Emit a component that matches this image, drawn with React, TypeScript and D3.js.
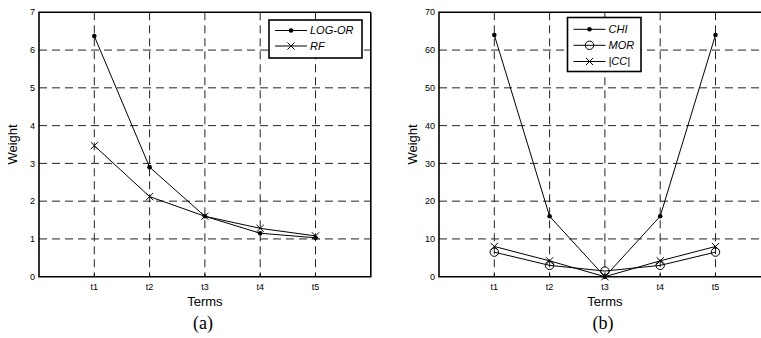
import React, { useEffect, useRef } from 'react'
import * as d3 from 'd3'

const terms = ['t1', 't2', 't3', 't4', 't5']

// panel (a)
const logOr = [6.37, 2.9, 1.6, 1.15, 1.03]
const rf = [3.47, 2.12, 1.6, 1.28, 1.08]
const ticksA = [0, 1, 2, 3, 4, 5, 6, 7]

// panel (b)
const chi = [64, 16, 0, 16, 64]
const mor = [6.5, 3, 1.5, 3, 6.5]
const cc = [8, 4.2, 0, 4.2, 8]
const ticksB = [0, 10, 20, 30, 40, 50, 60, 70]

const W = 761
const H = 338
const FONT = '"Liberation Sans", Arial, sans-serif'

type Series = { name: string; values: number[]; marker: 'dot' | 'x' | 'circle' }

function drawPanel(svg: any, opts: any) {
  const { left, top, bottom, yMax, yTicks, series, caption, legend } = opts
  const step = 55.3
  const x = d3.scaleLinear().domain([0, 6]).range([left, left + 6 * step])
  const y = d3.scaleLinear().domain([0, yMax]).range([bottom, top])
  const right = x(6)
  const g = svg.append('g')

  // grid
  g.append('g')
    .attr('stroke', '#222')
    .attr('stroke-width', 1)
    .attr('stroke-dasharray', '8,5')
    .selectAll('line.gy')
    .data(yTicks.slice(1, -1))
    .join('line')
    .attr('x1', left)
    .attr('x2', Math.min(right, W))
    .attr('y1', (d: number) => y(d))
    .attr('y2', (d: number) => y(d))
  g.append('g')
    .attr('stroke', '#222')
    .attr('stroke-width', 1)
    .attr('stroke-dasharray', '8,5')
    .selectAll('line.gx')
    .data(terms)
    .join('line')
    .attr('x1', (d: string, i: number) => x(i + 1))
    .attr('x2', (d: string, i: number) => x(i + 1))
    .attr('y1', top)
    .attr('y2', bottom)

  // small inward ticks
  g.append('g')
    .attr('stroke', '#000')
    .selectAll('line')
    .data(terms)
    .join('line')
    .attr('x1', (d: string, i: number) => x(i + 1))
    .attr('x2', (d: string, i: number) => x(i + 1))
    .attr('y1', bottom)
    .attr('y2', bottom - 3)

  // tick labels
  g.append('g')
    .attr('font-family', FONT)
    .attr('font-size', 9)
    .attr('text-anchor', 'end')
    .selectAll('text')
    .data(yTicks)
    .join('text')
    .attr('x', left - 4)
    .attr('y', (d: number) => y(d))
    .attr('dy', '0.35em')
    .text((d: number) => d)
  g.append('g')
    .attr('font-family', FONT)
    .attr('font-size', 9)
    .attr('text-anchor', 'middle')
    .selectAll('text')
    .data(terms)
    .join('text')
    .attr('x', (d: string, i: number) => x(i + 1))
    .attr('y', bottom + 13)
    .text((d: string) => d)

  // axis titles
  g.append('text')
    .attr('font-family', FONT)
    .attr('font-size', 13)
    .attr('text-anchor', 'middle')
    .attr('transform', `translate(${left - 22},${(top + bottom) / 2}) rotate(-90)`)
    .text('Weight')
  g.append('text')
    .attr('font-family', FONT)
    .attr('font-size', 13)
    .attr('text-anchor', 'middle')
    .attr('x', x(3))
    .attr('y', bottom + 29)
    .text('Terms')
  g.append('text')
    .attr('font-family', '"Liberation Serif", "Times New Roman", serif')
    .attr('font-size', 18)
    .attr('text-anchor', 'middle')
    .attr('x', x(3) - 2)
    .attr('y', bottom + 52)
    .text(caption)

  const line = d3.line<number>()
    .x((d, i) => x(i + 1))
    .y(d => y(d))

  const drawMarker = (sel: any, kind: string, cx: number, cy: number) => {
    if (kind === 'dot') {
      sel.append('circle').attr('cx', cx).attr('cy', cy).attr('r', 2.3).attr('fill', '#000')
    } else if (kind === 'circle') {
      sel.append('circle').attr('cx', cx).attr('cy', cy).attr('r', 4.2)
        .attr('fill', 'none').attr('stroke', '#000').attr('stroke-width', 1)
    } else {
      const s = 3.6
      sel.append('path')
        .attr('d', `M${cx - s},${cy - s}L${cx + s},${cy + s}M${cx - s},${cy + s}L${cx + s},${cy - s}`)
        .attr('stroke', '#000').attr('stroke-width', 1)
    }
  }

  series.forEach((s: Series) => {
    g.append('path')
      .attr('d', line(s.values))
      .attr('fill', 'none')
      .attr('stroke', '#000')
      .attr('stroke-width', 1)
    s.values.forEach((v, i) => drawMarker(g, s.marker, x(i + 1), y(v)))
  })

  // axes box
  g.append('path')
    .attr('d', `M${right},${top}H${left}V${bottom}H${right}V${top}`)
    .attr('fill', 'none')
    .attr('stroke', '#000')
    .attr('stroke-width', 1.6)

  // legend
  const lg = g.append('g')
  lg.append('rect')
    .attr('x', legend.x)
    .attr('y', legend.y)
    .attr('width', legend.w)
    .attr('height', legend.h)
    .attr('fill', '#fff')
    .attr('stroke', '#000')
    .attr('stroke-width', 1.6)
  series.forEach((s: Series, i: number) => {
    const ly = legend.rows[i]
    lg.append('line')
      .attr('x1', legend.x + 6)
      .attr('x2', legend.x + 38)
      .attr('y1', ly)
      .attr('y2', ly)
      .attr('stroke', '#000')
    drawMarker(lg, s.marker, legend.x + 22, ly)
    lg.append('text')
      .attr('font-family', FONT)
      .attr('font-size', 11)
      .attr('font-style', 'italic')
      .attr('x', legend.x + 41)
      .attr('y', ly)
      .attr('dy', '0.36em')
      .text(s.name)
  })
}

export default function App() {
  const ref = useRef<SVGSVGElement>(null)

  useEffect(() => {
    const svg = d3.select(ref.current)
    svg.selectAll('*').remove()
    drawPanel(svg, {
      left: 39,
      top: 12.3,
      bottom: 276.7,
      yMax: 7,
      yTicks: ticksA,
      caption: '(a)',
      series: [
        { name: 'LOG-OR', values: logOr, marker: 'dot' },
        { name: 'RF', values: rf, marker: 'x' },
      ],
      legend: { x: 269, y: 20, w: 93, h: 38, rows: [30.5, 46] },
    })
    drawPanel(svg, {
      left: 439,
      top: 12.3,
      bottom: 276.7,
      yMax: 70,
      yTicks: ticksB,
      caption: '(b)',
      series: [
        { name: 'CHI', values: chi, marker: 'dot' },
        { name: 'MOR', values: mor, marker: 'circle' },
        { name: '|CC|', values: cc, marker: 'x' },
      ],
      legend: { x: 567.5, y: 17.5, w: 73.5, h: 54, rows: [29.3, 45.3, 61.5] },
    })
  }, [])

  return (
    <svg
      ref={ref}
      width={W}
      height={H}
      style={{ position: 'absolute', left: 0, top: 0, background: '#fff' }}
    />
  )
}
